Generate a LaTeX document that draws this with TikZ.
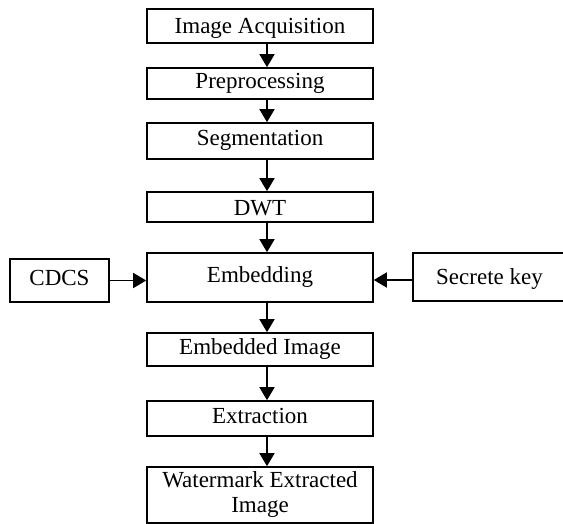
\documentclass[tikz,border=0pt]{standalone}
\usepackage{fontspec}
\setmainfont{Liberation Serif}
\usetikzlibrary{arrows.meta}
\begin{document}
\begin{tikzpicture}[x=1pt,y=-1pt,
  boxbase/.style={draw=black, line width=1.6pt, inner sep=0pt, align=center,
    font=\fontsize{23}{25}\selectfont, text=black},
  stepbox/.style={boxbase, text height=16pt, text depth=6pt},
  flow/.style={line width=1.6pt, -{Triangle[width=15pt,length=13pt]}}]
\useasboundingbox (0,0) rectangle (563,524);
\begin{scope}
\clip (0,0) rectangle (563,524);
% main column
\node[stepbox, text height=17pt, text depth=1pt, minimum width=226pt, minimum height=34pt] (acq) at (260,26) {Image Acquisition};
\node[stepbox, minimum width=226pt, minimum height=31pt] (pre) at (260,83.5) {Preprocessing};
\node[stepbox, minimum width=226pt, minimum height=36pt] (seg) at (260,141) {Segmentation};
\node[stepbox, text height=18pt, text depth=0pt, minimum width=226pt, minimum height=30pt] (dwt) at (260,207) {DWT};
\node[stepbox, minimum width=226pt, minimum height=49pt] (emb) at (260,277.5) {Embedding};
\node[stepbox, minimum width=226pt, minimum height=33pt] (eimg) at (260,349.5) {Embedded Image};
\node[stepbox, minimum width=226pt, minimum height=35pt] (ext) at (260,418.5) {Extraction};
\node[boxbase, minimum width=226pt, minimum height=56pt] (wm) at (260,495) {Watermark Extracted\\Image};
% side inputs
\node[stepbox, minimum width=99pt, minimum height=43pt] (cdcs) at (59.5,280.5) {CDCS};
\node[stepbox, minimum width=160pt, minimum height=48pt] (key) at (493,277) {};
\node[font=\fontsize{23}{25}\selectfont, text height=16pt, text depth=6pt, inner sep=0pt] (keytxt) at (489.5,279) {Secrete key};
% vertical flow
\foreach \a/\b in {acq/pre, pre/seg, seg/dwt, dwt/emb, emb/eimg, eimg/ext, ext/wm}
  \draw[flow] ([xshift=7pt]\a.south) -- ([xshift=7pt]\b.north);
% horizontal inputs
\draw[flow] (cdcs.east) -- (cdcs.east -| emb.west);
\draw[flow] ([yshift=-3pt]key.west) -- ([yshift=-3pt]key.west -| emb.east);
\end{scope}
\end{tikzpicture}
\end{document}
